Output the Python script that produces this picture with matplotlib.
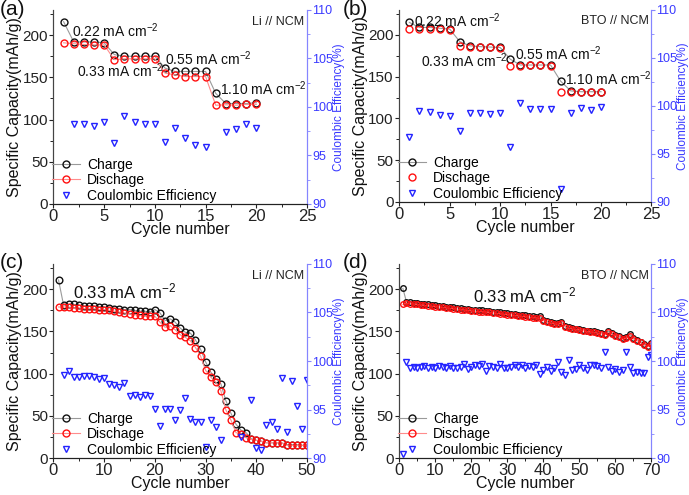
import numpy as np
import matplotlib

matplotlib.use("Agg")
import matplotlib.pyplot as plt
from matplotlib.lines import Line2D
from matplotlib.ticker import MultipleLocator, AutoMinorLocator

plt.rcParams["font.family"] = ["Liberation Sans", "DejaVu Sans"]
plt.rcParams["mathtext.fontset"] = "custom"
plt.rcParams["mathtext.rm"] = "Liberation Sans"
plt.rcParams["mathtext.it"] = "Liberation Sans:italic"

nan = np.nan

# (a) Li // NCM, rate test
cyc_a = list(range(1, 21))
charge_a = [216, 192, 192, 192, 191, 177, 175, 175, 175, 175,
            161, 157, 157, 157, 157, 131, 119, 119, 119, 120]
dis_a = [191, 190, 189, 188.5, 188.5, 171, 172, 172, 172, 172,
         155, 153, 151, 151, 151, 117, 117.5, 117, 118, 118]
ce_a = [nan, 98.2, 98.2, 98.0, 98.45, 96.3, 99.05, 98.4, 98.2, 98.2,
        96.4, 97.8, 96.75, 96.1, 95.9, nan, 97.45, 97.75, 98.2, 97.8]

# (b) BTO // NCM, rate test
cyc_b = list(range(1, 21))
charge_b = [215, 209, 209, 208, 207, 192, 187, 186, 185.5, 185,
            171, 164, 164, 164, 164, 144.6, 133, 132, 132, 132]
dis_b = [207.6, 207.6, 207, 207, 206, 187, 186, 186, 185, 184,
         163, 163, 164, 164, 163, 132, 132, 132, 132, 132]
ce_b = [96.8, 99.5, 99.35, 99.1, 99.0, 97.4, 99.3, 99.3, 99.2, 99.3,
        95.7, 100.3, 99.7, 99.7, 99.7, 91.4, 99.25, 99.75, 99.6, 99.9]

# (c) Li // NCM, cycling at 0.33 mA cm-2
cyc_c = list(range(1, 51))
charge_c = [211, 181, 182, 182, 181, 180, 180, 180, 179, 179,
            178, 177, 177, 176, 176, 175, 174, 174, 173, 176,
            172, 163, 165, 161, 154, 149, 148, 140, 129, 114,
            102, 94, 88, 68, 53, 40, 33, 30, 23, 21,
            20, 18, 18, 18, 18, 16, 16, 16, 15, 15]
dis_c = [179, 179, 179, 178, 178, 177, 177, 177, 176, 176,
         175, 174, 173, 172, 171, 170, 169, 168, 168, 168,
         161, 155, 157, 152, 146, 143, 139, 131, 121, 104,
         96, 90, 80, 57, 45, 30, 29, 24, 22, 21,
         20, 18, 18, 18, 18, 15, 15, 15, 15, 15]
ce_c = [nan, 98.6, 98.97, 98.3, 98.4, 98.45, 98.45, 98.3, 98.1, 98.2,
        97.65, 97.5, 97.3, 97.7, 96.4, 96.5, 96.3, 96.5, 96.4, 95.1,
        93.3, 95.1, 95.1, 93.9, 94.9, 96.2, 94.0, 93.75, 93.7, 91.1,
        93.9, 93.2, 91.9, nan, nan, nan, 92.2, nan, 96.0, 91.0,
        90.8, 93.4, 93.7, 93.0, 98.2, 92.7, 97.9, 95.4, 93.0, 98.0]

# (d) BTO // NCM, cycling at 0.33 mA cm-2
cyc_d = list(range(1, 71))
charge_d = [201, 185, 184.5, 184, 183.5, 183, 182.5, 182, 181.5, 181,
            180.5, 180, 179.5, 179, 178.5, 178, 177.5, 177, 176.5, 176,
            175.5, 175, 175, 174.5, 174, 173.5, 173, 172.5, 172, 171.5,
            171, 170.5, 170, 169.5, 169, 168.5, 168, 167.5, 168, 164,
            162, 161, 160, 159.5, 161.5, 156, 155, 154, 153.5, 153,
            152, 151, 150.5, 150, 149, 148.5, 147, 150.5, 148, 146,
            144.5, 142, 143, 146.5, 142, 140, 138, 135, 133, 136]
dis_d = [182, 183.5, 183, 182.5, 182, 181.5, 181, 180.5, 180, 179.5,
         179, 178.5, 178, 177.5, 177, 176.5, 176, 175.5, 175, 174.5,
         174, 173.5, 173.5, 173, 172.5, 172, 171.5, 171, 170.5, 170,
         169.5, 169, 168.5, 168, 167.5, 167, 166.5, 166, 165.5, 163,
         161, 160, 159, 158.5, 160, 155, 154, 153, 152.5, 152,
         151, 150, 149.5, 149, 148, 147.5, 146, 149, 147, 145,
         143.5, 141, 142, 145, 141, 139, 137, 134, 132, 135]
ce_d = [90.4, 99.9, 99.3, 99.4, 99.3, 99.4, 99.5, 99.3, 99.4, 99.3,
        99.5, 99.4, 99.3, 99.5, 99.3, 99.3, 99.4, 99.7, 99.2, 99.4,
        99.6, 99.5, 99.7, 99.0, 99.5, 99.4, 99.3, 99.7, 99.3, 99.3,
        99.4, 99.6, 99.4, 99.6, 99.3, 99.5, 99.4, 99.6, 98.7, 99.1,
        99.4, 99.0, 99.3, 99.9, 98.9, 98.6, 100.1, 99.1, 99.2, 99.6,
        99.3, 99.1, 99.6, 99.6, 99.5, 99.3, 100.9, 99.4, 99.0, 99.2,
        98.9, 99.1, 100.9, 99.4, 98.8, 98.9, 98.8, 98.8, 100.4, 100.6]

BLUE = "#2323ff"
AXBLUE = "#3a3aff"
SPBLUE = "#8585ff"
CH_LINE = "#9a9a9a"
DIS_LINE = "#ff8c8c"


def panel(fig, rect, cycles, charge, dis, ce, xmax, xstep, tag, letter, letter_xy,
          notes, dis_line=True, ms=5.0, note_size=10):
    ax = fig.add_axes(rect)
    ax2 = ax.twinx()
    ax.plot(cycles, charge, "-o", color=CH_LINE, lw=0.8, mfc="none", mec="#111111",
            ms=ms, mew=1.0)
    ax.plot(cycles, dis, "-o" if dis_line else "o", color=DIS_LINE, lw=0.8, mfc="none",
            mec="#ff1010", ms=ms, mew=1.0)
    ax2.plot(cycles, ce, "v", ls="none", mfc="none", mec=BLUE, ms=ms, mew=1.0)

    ax.set_xlim(0, xmax)
    ax.set_ylim(0, 230)
    ax2.set_ylim(90, 110)
    ax.xaxis.set_major_locator(MultipleLocator(xstep))
    ax.xaxis.set_minor_locator(AutoMinorLocator(2))
    ax.yaxis.set_major_locator(MultipleLocator(50))
    ax.yaxis.set_minor_locator(AutoMinorLocator(2))
    ax2.yaxis.set_major_locator(MultipleLocator(5))
    ax2.yaxis.set_minor_locator(AutoMinorLocator(2))

    for a in (ax, ax2):
        a.spines["top"].set_visible(False)
        a.spines["left"].set_color("#444444")
        a.spines["bottom"].set_color("#222222")
        a.spines["right"].set_color(SPBLUE)
    ax.tick_params(axis="x", direction="out", labelsize=12, length=3, colors="#222222",
                   pad=0.5)
    ax.tick_params(axis="x", which="minor", direction="out", length=2)
    ax.tick_params(axis="y", direction="out", labelsize=11, length=3, colors="#222222",
                   pad=1)
    ax.tick_params(axis="y", which="minor", direction="out", length=2)
    ax2.tick_params(axis="y", direction="out", labelsize=9, length=3, colors=SPBLUE,
                    labelcolor=AXBLUE, pad=0.5)
    ax2.tick_params(axis="y", which="minor", direction="out", length=2, colors=SPBLUE)

    ax.set_xlabel("Cycle number", fontsize=11.5, labelpad=-1, color="#111111")
    ax.set_ylabel("Specific Capacity(mAh/g)", fontsize=11.5, labelpad=0, color="#111111")
    ax2.set_ylabel("Coulombic Efficiency(%)", fontsize=8.5, labelpad=0, color=AXBLUE)

    ax.text(0.99, 0.94, tag, transform=ax.transAxes, ha="right", va="center",
            fontsize=9, color="#222222")
    for x, y, s in notes:
        ax.text(x, y, s, ha="left", va="center", fontsize=note_size, color="#111111")

    handles = [
        Line2D([], [], color=CH_LINE, lw=0.8, marker="o", mfc="none", mec="#111111",
               ms=5, mew=1.0),
        Line2D([], [], color=DIS_LINE, lw=0.8 if dis_line else 0, marker="o", mfc="none",
               mec="#ff1010", ms=5, mew=1.0),
        Line2D([], [], ls="none", marker="v", mfc="none", mec=BLUE, ms=5, mew=1.0),
    ]
    ax2.legend(handles, ["Charge", "Dischage", "Coulombic Efficiency"], loc="lower left",
               bbox_to_anchor=(-0.01, 0.0), frameon=False, fontsize=10, handlelength=2.0,
               handletextpad=0.5, labelspacing=0.1, borderaxespad=0, borderpad=0.1)

    fig.text(letter_xy[0], letter_xy[1], letter, fontsize=15, ha="left", va="top",
             color="#111111")
    return ax, ax2


def main():
    fig = plt.figure(figsize=(6.89, 4.95), dpi=100)

    cm2 = " mA cm$^{\\mathrm{-2}}$"
    panel(fig, [0.0776, 0.588, 0.368, 0.392], cyc_a, charge_a, dis_a, ce_a, 25, 5,
          "Li // NCM", "(a)", (0.0, 1.0),
          [(1.8, 205, "0.22" + cm2), (11.0, 172, "0.55" + cm2),
           (2.3, 157.5, "0.33" + cm2), (16.45, 136.5, "1.10" + cm2)])
    panel(fig, [0.5795, 0.592, 0.366, 0.388], cyc_b, charge_b, dis_b, ce_b, 25, 5,
          "BTO // NCM", "(b)", (0.497, 1.0),
          [(1.5, 217, "0.22" + cm2), (2.2, 169, "0.33" + cm2),
           (11.5, 177, "0.55" + cm2), (16.4, 148, "1.10" + cm2)],
          dis_line=False)
    panel(fig, [0.0776, 0.0747, 0.368, 0.392], cyc_c, charge_c, dis_c, ce_c, 50, 10,
          "Li // NCM", "(c)", (0.0, 0.488),
          [(3.9, 198, "0.33" + cm2)], ms=4.8, note_size=12)
    panel(fig, [0.5795, 0.0747, 0.366, 0.392], cyc_d, charge_d, dis_d, ce_d, 70, 10,
          "BTO // NCM", "(d)", (0.497, 0.488),
          [(20.4, 193, "0.33" + cm2)], ms=4.0, note_size=12)

    fig.savefig("out.png", dpi=100)
    plt.close(fig)


if __name__ == "__main__":
    main()
